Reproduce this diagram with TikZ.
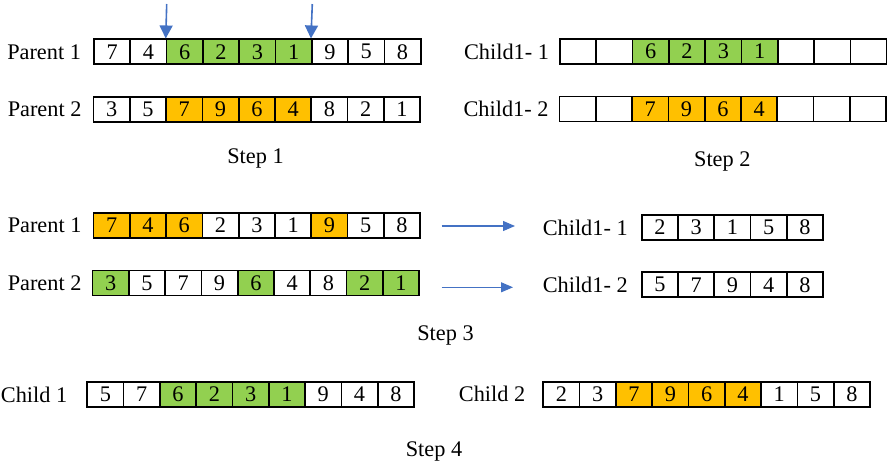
\documentclass[tikz,border=0pt]{standalone}
\usepackage{fontspec}
\setmainfont{Liberation Serif}
\usetikzlibrary{arrows.meta}

\definecolor{genegreen}{HTML}{92D050}
\definecolor{geneorange}{HTML}{FFC000}
\definecolor{cutblue}{HTML}{4472C4}
\newcommand{\genefont}{\fontsize{22.3}{26}\selectfont}

% A chromosome: #1 name, #2 left x, #3 centre y, #4 list of value/fill
\newcommand{\chromosome}[4]{%
  \foreach \v/\c [count=\i] in {#4} {
    \node[cell, fill=\c] (#1-\i) at ({#2+(\i-0.5)*36.3}, #3) {\v};
  }%
}

\begin{document}
\begin{tikzpicture}[x=1pt, y=-1pt,
  cell/.style={draw=black, line width=1.7pt, minimum width=36.3pt,
    minimum height=25pt, inner sep=0pt, font=\genefont},
  lab/.style={anchor=east, inner sep=0pt, font=\genefont},
  steplab/.style={anchor=base, inner sep=0pt, font=\genefont},
  cutarrow/.style={draw=cutblue, line width=1.6pt,
    -{Triangle[length=13pt,width=13pt]}},
  maparrow/.style={draw=cutblue, line width=1.1pt,
    -{Triangle[length=12pt,width=10pt]}}]

\useasboundingbox (0,0) rectangle (887,464);

% Step 1: the two parents and the cut points
\chromosome{Pa}{94}{51.8}{7/white,4/white,6/genegreen,2/genegreen,3/genegreen,1/genegreen,9/white,5/white,8/white}
\chromosome{Pb}{93.5}{109.2}{3/white,5/white,7/geneorange,9/geneorange,6/geneorange,4/geneorange,8/white,2/white,1/white}
\node[lab] (Pa-lab) at ([xshift=-12pt]Pa-1.west) {Parent 1};
\node[lab] (Pb-lab) at ([xshift=-11pt]Pb-1.west) {Parent 2};
\coordinate (cutA) at (166.7,4);
\coordinate (cutB) at (312.3,4);
\draw[cutarrow] (cutA) -- (Pa-3.north west);
\draw[cutarrow] (cutB) -- (Pa-7.north west);
\node[steplab] (step1) at (255.5,163) {Step 1};

% Step 2: the copied segments
\chromosome{Ca}{560}{51.5}{/white,/white,6/genegreen,2/genegreen,3/genegreen,1/genegreen,/white,/white,/white}
\chromosome{Cb}{559.5}{109}{/white,/white,7/geneorange,9/geneorange,6/geneorange,4/geneorange,/white,/white,/white}
\node[lab] (Ca-lab) at ([xshift=-10pt]Ca-1.west) {Child1- 1};
\node[lab] (Cb-lab) at ([xshift=-10pt]Cb-1.west) {Child1- 2};
\node[steplab] (step2) at (722.3,166.5) {Step 2};

% Step 3: remaining genes in order
\chromosome{Qa}{93.5}{225.5}{7/geneorange,4/geneorange,6/geneorange,2/white,3/white,1/white,9/geneorange,5/white,8/white}
\chromosome{Qb}{92.5}{283}{3/genegreen,5/white,7/white,9/white,6/genegreen,4/white,8/white,2/genegreen,1/genegreen}
\node[lab] (Qa-lab) at ([xshift=-11pt]Qa-1.west) {Parent 1};
\node[lab] (Qb-lab) at ([xshift=-10pt]Qb-1.west) {Parent 2};
\chromosome{Ra}{641.7}{227.5}{2/white,3/white,1/white,5/white,8/white}
\chromosome{Rb}{641.7}{284.8}{5/white,7/white,9/white,4/white,8/white}
\node[lab] (Ra-lab) at ([xshift=-13pt]Ra-1.west) {Child1- 1};
\node[lab] (Rb-lab) at ([xshift=-13pt]Rb-1.west) {Child1- 2};
\coordinate (mapA) at (441.7,226);
\coordinate (mapAend) at (515,226);
\coordinate (mapB) at (441.7,287.3);
\coordinate (mapBend) at (513,287.3);
\draw[maparrow] (mapA) -- (mapAend);
\draw[maparrow] (mapB) -- (mapBend);
\node[steplab] (step3) at (445.5,340) {Step 3};

% Step 4: the offspring
\chromosome{Sa}{87.3}{394.5}{5/white,7/white,6/genegreen,2/genegreen,3/genegreen,1/genegreen,9/white,4/white,8/white}
\chromosome{Sb}{543.3}{394.2}{2/white,3/white,7/geneorange,9/geneorange,6/geneorange,4/geneorange,1/white,5/white,8/white}
\node[lab] (Sa-lab) at ([xshift=-19pt]Sa-1.west) {Child 1};
\node[lab] (Sb-lab) at ([xshift=-17pt]Sb-1.west) {Child 2};
\node[steplab] (step4) at (434,456.7) {Step 4};

\end{tikzpicture}
\end{document}
